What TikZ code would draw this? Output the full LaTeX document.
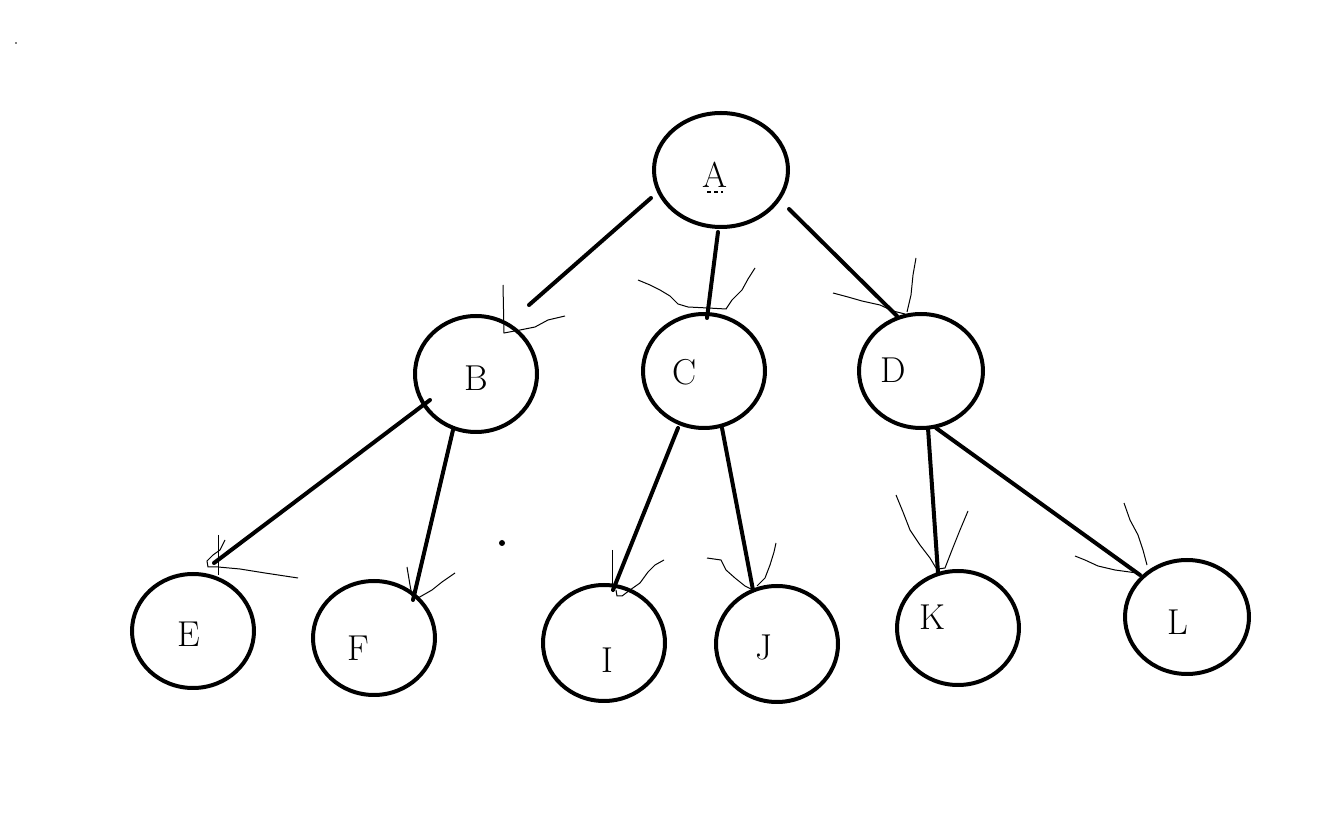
\documentclass[tikz,border=0pt]{standalone}
\begin{document}
\begin{tikzpicture}[x=0.5pt,y=-0.5pt,
  nd/.style={draw,line width=2pt,ellipse,inner sep=0pt},
  lbl/.style={font=\fontsize{18}{20}\selectfont},
  edge/.style={line width=2pt,line cap=round},
  scrib/.style={line width=0.5pt}]
\useasboundingbox[fill=white] (0,0) rectangle (1319,828);
% circles
\foreach \n/\x/\y/\rx/\ry in {A/721/170/67/57, B/476/374/61/58, C/704/371/61/57, D/921/371/62/57,
  E/193/631/61/57, F/374/638/61/57, I/604/643/61/58, J/777/644/61/58, K/958/628/61/57, L/1187/617/62/57}
  \draw[line width=2pt] (\x,\y) ellipse [x radius=\rx*0.5pt, y radius=\ry*0.5pt] coordinate (c\n);
\node[lbl] (tA) at (715,175) {A};
\node[lbl] (tB) at (476,378) {B};
\node[lbl] (tC) at (685,372) {C};
\node[lbl] (tD) at (893,370) {D};
\node[lbl] (tE) at (189,634) {E};
\node[lbl] (tF) at (358,648) {F};
\node[lbl] (tI) at (607,660) {I};
\node[lbl] (tJ) at (764,647) {J};
\node[lbl] (tK) at (932,617) {K};
\node[lbl] (tL) at (1178,622) {L};
\draw[line width=1pt,dash pattern=on 2pt off 1.5pt] (707,192) -- (723,192);
% edges
\coordinate (a1) at (651,198); \coordinate (b1) at (529,305);
\coordinate (a2) at (718,232); \coordinate (c2) at (707,318);
\coordinate (a3) at (789,209); \coordinate (d3) at (897,316);
\coordinate (b4) at (430,400); \coordinate (e4) at (214,563);
\coordinate (b5) at (453,430); \coordinate (f5) at (413,600);
\coordinate (c6) at (678,428); \coordinate (i6) at (613,590);
\coordinate (c7) at (722,428); \coordinate (j7) at (753,590);
\coordinate (d8) at (928,428); \coordinate (k8) at (938,573);
\coordinate (d9) at (936,428); \coordinate (l9) at (1140,575);
\draw[edge] (a1) -- (b1);
\draw[edge] (a2) -- (c2);
\draw[edge] (a3) -- (d3);
\draw[edge] (b4) -- (e4);
\draw[edge] (b5) -- (f5);
\draw[edge] (c6) -- (i6);
\draw[edge] (c7) -- (j7);
\draw[edge] (d8) -- (k8);
\draw[edge] (d9) -- (l9);
% hand-drawn arrow scribbles
\draw[scrib] (503,285) -- (504,333) -- (520,330) -- (535,327) -- (548,320) -- (565,316);
\draw[scrib] (638,280) -- (650,285) -- (660,290) -- (670,296) -- (678,304) -- (688,307) -- (708,308) -- (726,309) -- (732,300) -- (742,290) -- (748,279) -- (755,268);
\draw[scrib] (833,293) -- (848,297) -- (862,301) -- (880,305) -- (893,311) -- (905,314);
\draw[scrib] (916,258) -- (913,275) -- (911,295) -- (907,312);
\draw[scrib] (218,535) -- (218,575);
\draw[scrib] (225,540) -- (220,550) -- (213,555) -- (207,561) -- (208,567) -- (218,567) -- (240,569) -- (265,573) -- (298,578);
\draw[scrib] (407,567) -- (410,585) -- (412,596);
\draw[scrib] (418,598) -- (432,590) -- (442,582) -- (455,573);
\draw[scrib] (612,550) -- (612,590);
\draw[scrib] (616,590) -- (617,596) -- (622,596) -- (630,590) -- (640,583) -- (648,572) -- (655,565) -- (664,560);
\draw[scrib] (707,558) -- (721,560) -- (726,570) -- (735,578) -- (745,586) -- (753,590);
\draw[scrib] (757,586) -- (765,578) -- (770,565) -- (774,552) -- (776,543);
\draw[scrib] (896,495) -- (903,512) -- (910,530) -- (920,545) -- (930,558) -- (936,568);
\draw[scrib] (938,569) -- (945,568) -- (952,550) -- (960,530) -- (968,511);
\draw[scrib] (1075,556) -- (1085,560) -- (1098,566) -- (1115,570) -- (1137,573);
\draw[scrib] (1124,503) -- (1130,520) -- (1138,535) -- (1143,550) -- (1147,565);
% stray dots
\fill (502,543) circle [radius=1.5pt];
\fill (16,43) circle [radius=0.4pt];
\end{tikzpicture}
\end{document}
